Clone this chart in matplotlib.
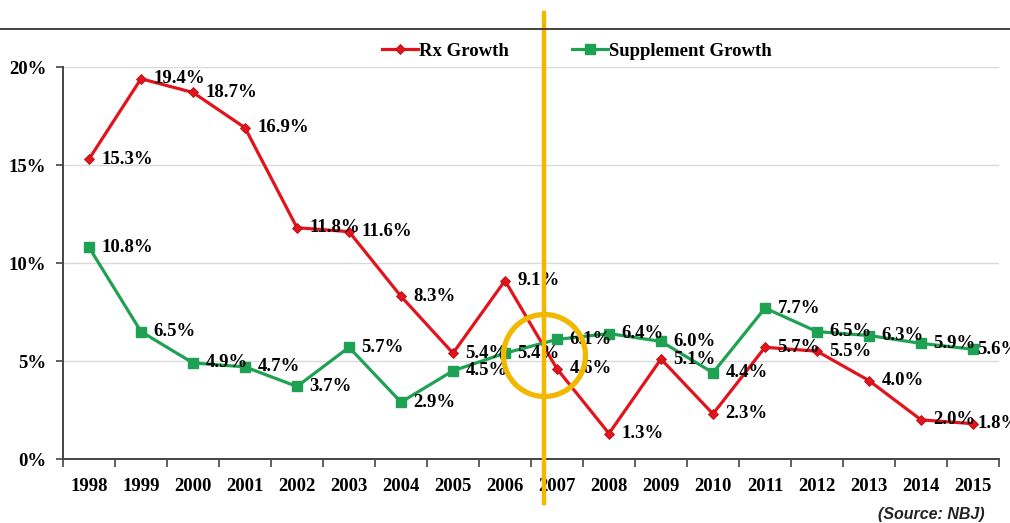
import matplotlib
matplotlib.use("Agg")
import matplotlib.pyplot as plt
from matplotlib.lines import Line2D
from matplotlib.transforms import blended_transform_factory

years = ["1998", "1999", "2000", "2001", "2002", "2003", "2004", "2005", "2006",
         "2007", "2008", "2009", "2010", "2011", "2012", "2013", "2014", "2015"]
rx_growth = [15.3, 19.4, 18.7, 16.9, 11.8, 11.6, 8.3, 5.4, 9.1,
             4.6, 1.3, 5.1, 2.3, 5.7, 5.5, 4.0, 2.0, 1.8]
supplement_growth = [10.8, 6.5, 4.9, 4.7, 3.7, 5.7, 2.9, 4.5, 5.4,
                     6.1, 6.4, 6.0, 4.4, 7.7, 6.5, 6.3, 5.9, 5.6]
y_ticks = [0, 5, 10, 15, 20]

RED = "#E3131B"
GREEN = "#1FA154"
YELLOW = "#F2B800"
SERIF = ["Liberation Serif", "DejaVu Serif"]
FS = 13.5

plt.rcParams["font.family"] = SERIF
plt.rcParams["font.weight"] = "bold"

fig = plt.figure(figsize=(10.10, 5.23), dpi=100)
ax = fig.add_axes([63 / 1010, 1 - 459 / 523, (999 - 63) / 1010, (459 - 67) / 523])

x = list(range(len(years)))

ax.plot(x, rx_growth, color=RED, lw=2.3, marker="D", markersize=5.5,
        markerfacecolor=RED, markeredgecolor="#B01018", markeredgewidth=0.6,
        label="Rx Growth", zorder=3)
ax.plot(x, supplement_growth, color=GREEN, lw=2.3, marker="s", markersize=6.5,
        markerfacecolor=GREEN, markeredgecolor=GREEN,
        label="Supplement Growth", zorder=3)

last = len(years) - 1
for series in (rx_growth, supplement_growth):
    for xi, v in zip(x, series):
        # the final year's labels sit tight against the right edge
        dx = 3 if xi == last else 9
        ax.annotate(f"{v:.1f}%", (xi, v), xytext=(dx, 0), textcoords="offset points",
                    ha="left", va="center", fontsize=FS, fontweight="bold",
                    color="black", zorder=4, annotation_clip=False)

ax.set_xlim(-0.5, len(years) - 0.5)
ax.set_ylim(0, 20)
ax.set_yticks(y_ticks)
ax.set_yticklabels([f"{t}%" for t in y_ticks], fontsize=FS, fontweight="bold")
ax.set_xticks(x)
ax.set_xticklabels(years, fontsize=FS, fontweight="bold")
ax.set_xticks([i - 0.5 for i in range(len(years) + 1)], minor=True)
ax.tick_params(axis="x", which="major", length=0, pad=14)
ax.tick_params(axis="x", which="minor", length=6, width=1.2, color="#444444", direction="out")
ax.tick_params(axis="y", which="major", length=5, width=1.2, color="#444444", pad=7)

ax.grid(axis="y", color="#DADADA", lw=1)
ax.set_axisbelow(True)
for side in ("top", "right"):
    ax.spines[side].set_visible(False)
for side in ("left", "bottom"):
    ax.spines[side].set_color("#444444")
    ax.spines[side].set_linewidth(1.4)

# legend across the top
ax.legend(loc="center", bbox_to_anchor=(577 / 1010, 1 - 51 / 523),
          bbox_transform=fig.transFigure, ncol=2, frameon=False,
          handlelength=1.9, handletextpad=0.05, columnspacing=3.4,
          prop={"family": SERIF, "weight": "bold", "size": FS})

# rule above the plot
fig.add_artist(Line2D([0, 1], [1 - 29 / 523, 1 - 29 / 523],
                      transform=fig.transFigure, color="#333333", lw=1.3))

# highlight of the 2006/2007 crossover
mark_x = 8.75
trans = blended_transform_factory(ax.transData, fig.transFigure)
ax.add_artist(Line2D([mark_x, mark_x], [1 - 13 / 523, 1 - 503 / 523],
                     transform=trans, color=YELLOW, lw=3.2, clip_on=False, zorder=5))
ax.plot([mark_x], [5.3], marker="o", markersize=59, markerfacecolor="none",
        markeredgecolor=YELLOW, markeredgewidth=3.8, clip_on=False, zorder=5)

fig.text(985 / 1010, 1 - 514 / 523, "(Source: NBJ)", ha="right", va="center",
         fontsize=11.5, style="italic", fontweight="bold",
         family=["Liberation Sans", "DejaVu Sans"], color="#222222")

fig.savefig("out.png", dpi=100)
